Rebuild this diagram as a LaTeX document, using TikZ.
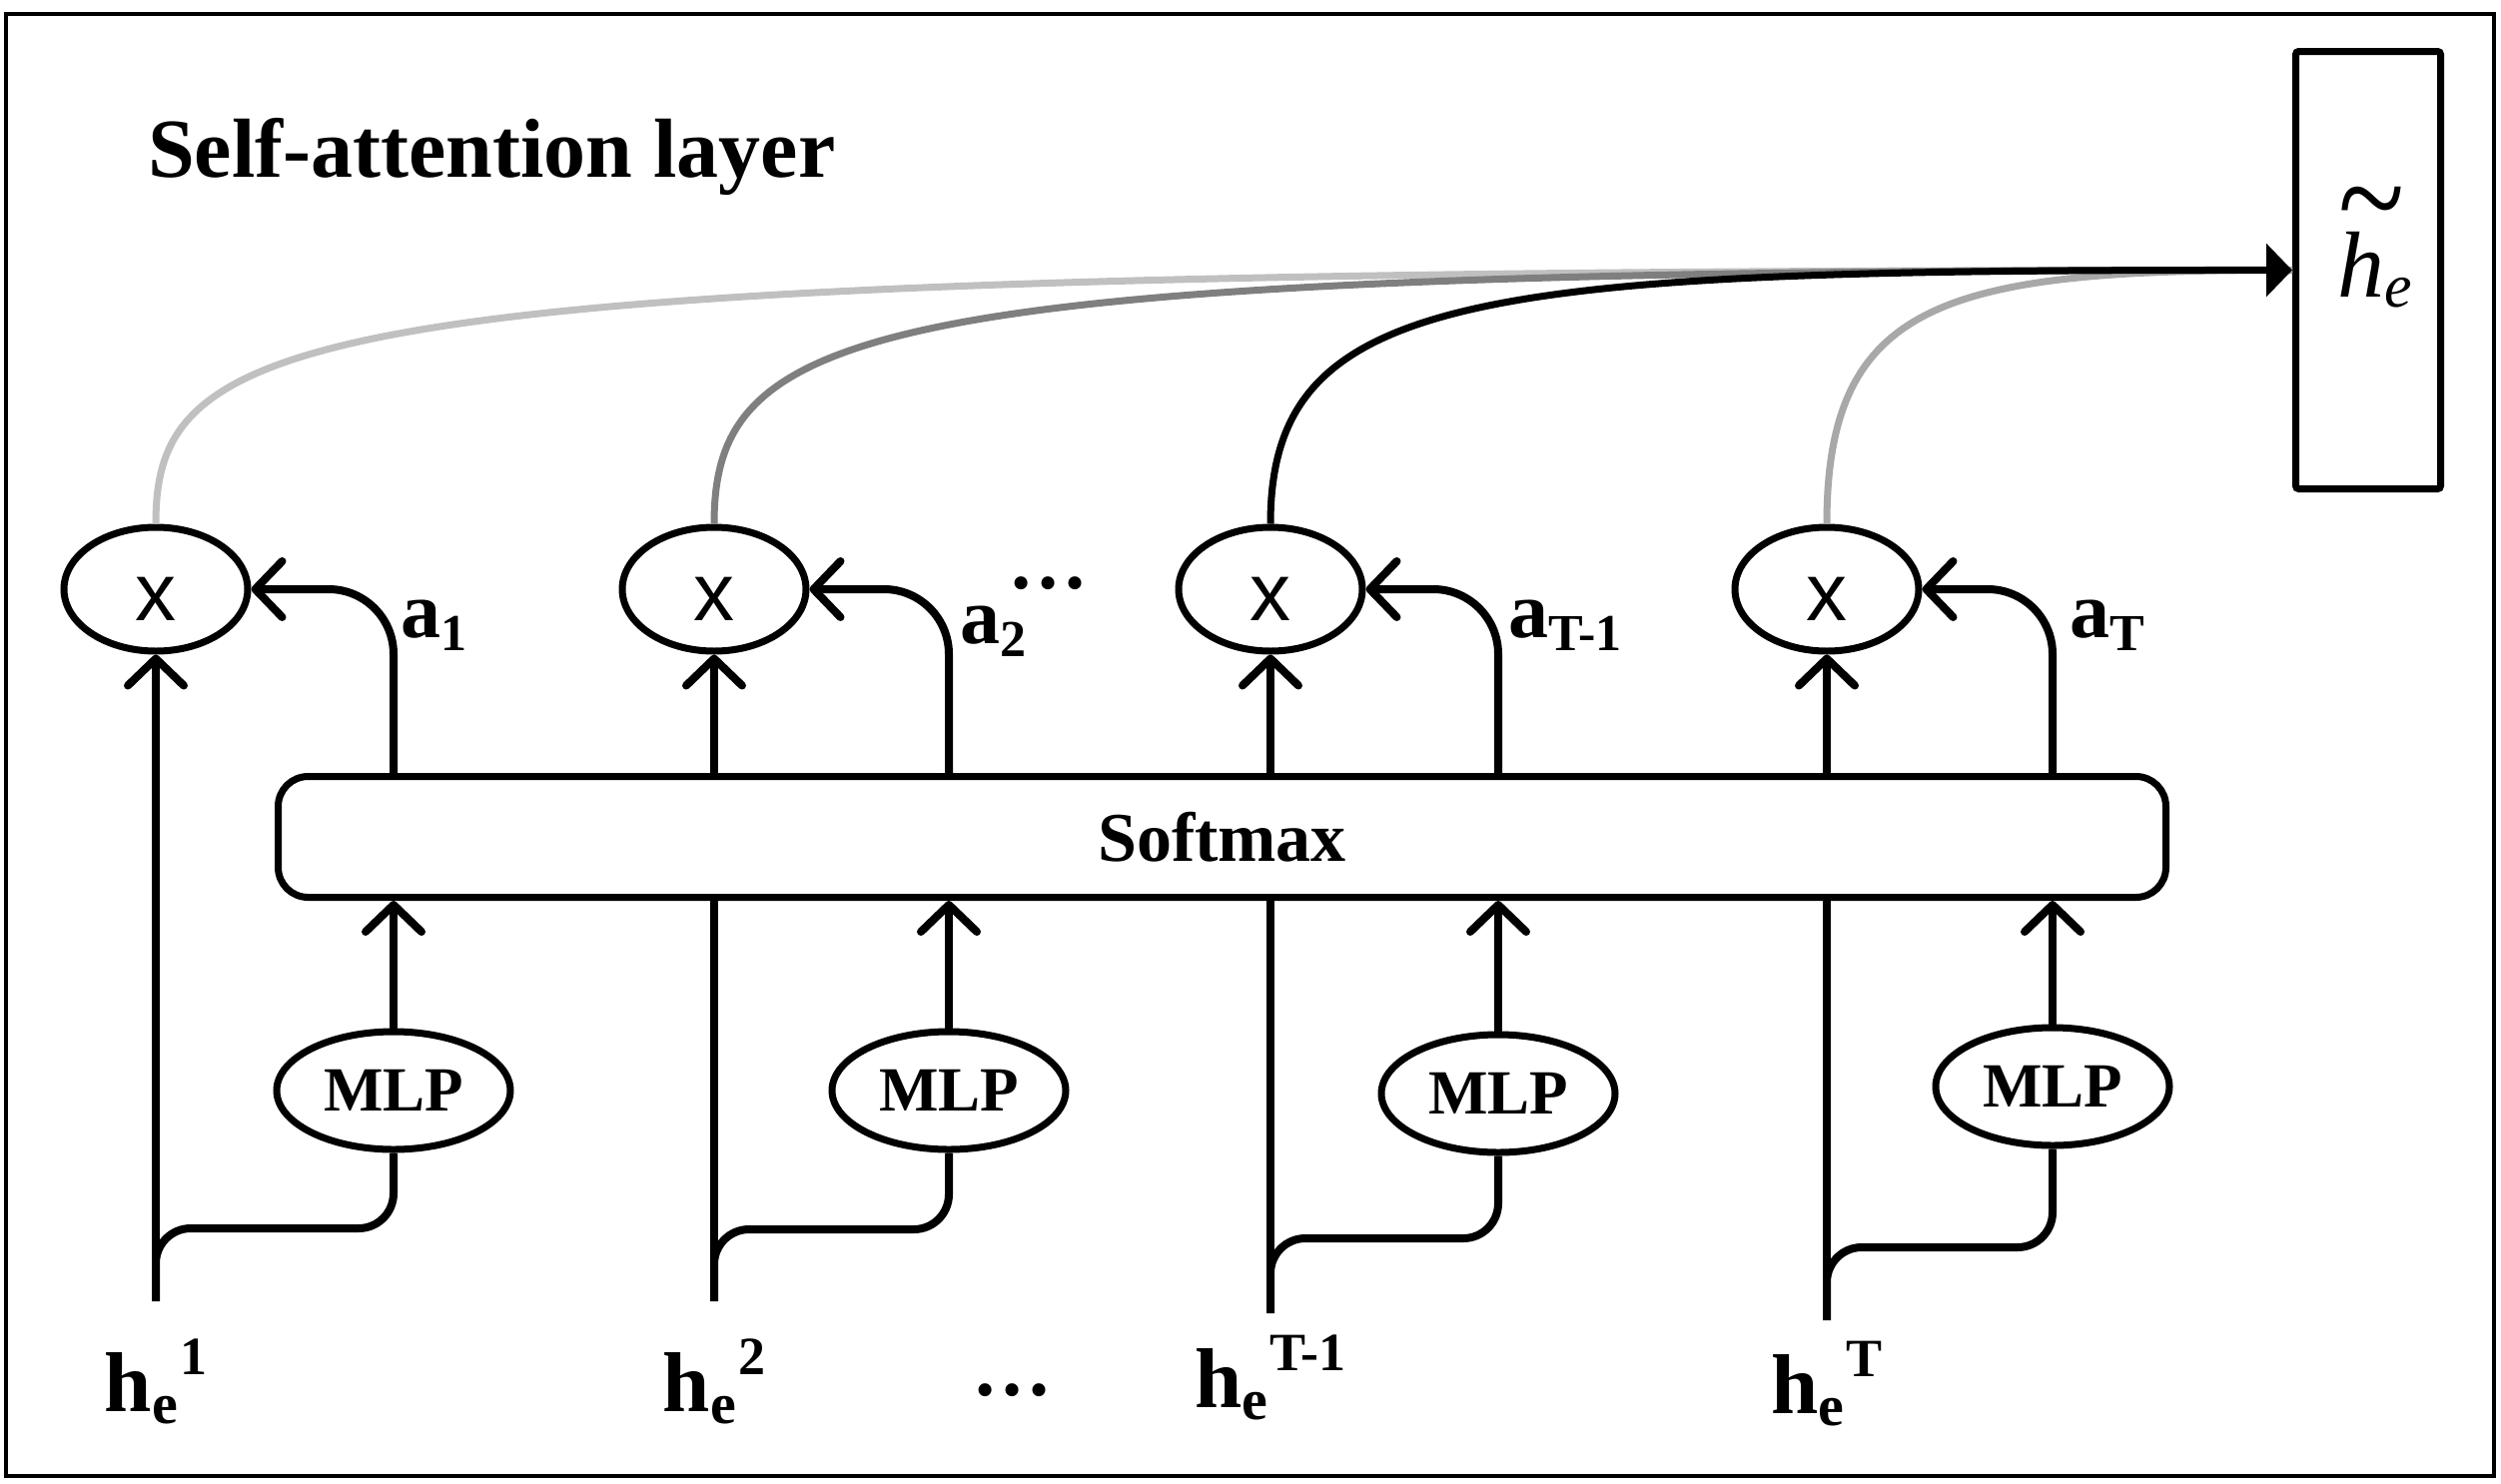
\documentclass[tikz,border=0pt]{standalone}
\usepackage{fontspec}
\setmainfont{Liberation Serif}
\newfontfamily\xsans{Liberation Sans}
\usetikzlibrary{arrows.meta,shapes.geometric}
\definecolor{cA}{HTML}{C0C0C0}
\definecolor{cB}{HTML}{7F7F7F}
\definecolor{cD}{HTML}{A8A8A8}
\newcommand\alab[1]{{\fontsize{80}{80}\selectfont a}\raisebox{-13pt}{\fontsize{52}{52}\selectfont #1}}
\newcommand\hlab[1]{{\fontsize{85}{85}\selectfont h}\raisebox{-12pt}{\fontsize{58}{58}\selectfont e}\hspace{2pt}\raisebox{37pt}{\fontsize{54}{54}\selectfont #1}}
\tikzset{
  mult/.style={ellipse, draw, line width=7pt, inner sep=0pt, minimum width=184pt, minimum height=124pt,
    font=\xsans\fontsize{82}{82}\selectfont, text height=62pt, text depth=0pt},
  mlp/.style={ellipse, draw, line width=7pt, inner sep=0pt, minimum width=234pt, minimum height=118pt,
    font=\bfseries\fontsize{63}{63}\selectfont},
  conn/.style={line width=8pt},
  barb/.style={conn, -{Straight Barb[length=27pt,width=56pt,round]}},
  sidearr/.style={barb, rounded corners=65pt},
  branch/.style={conn, rounded corners=35pt},
  agg/.style={line width=7pt},
  lab/.style={inner sep=0pt, font=\bfseries},
}
\begin{document}
\begin{tikzpicture}[x=1pt,y=-1pt]
\useasboundingbox (0,0) rectangle (2504,1486);
\draw[line width=4.5pt] (6,14) rectangle (2497,1478);

\node[lab, anchor=base west, font=\bfseries\fontsize{84}{84}\selectfont] (title) at (148,177) {Self-attention layer};

% output box
\node[draw, line width=7pt, minimum width=145pt, minimum height=438pt, rounded corners=3pt, inner sep=0pt] (out) at (2371,270.5) {};
\node[inner sep=0pt, anchor=base west] (outlab) at (2340,297)
  {\fontsize{94}{94}\selectfont\itshape\rlap{\hspace{1pt}\raisebox{52pt}{\upshape\scalebox{1.3}[1.5]{\textasciitilde}}}h\raisebox{-10pt}{\fontsize{62}{62}\selectfont e}};

% multiplication nodes
\node[mult] (e1) at (156,590) {x};
\node[mult] (e2) at (715,590) {x};
\node[mult] (e3) at (1272,590) {x};
\node[mult] (e4) at (1829,590) {x};

% MLP nodes
\node[mlp] (m1) at (394,1092) {MLP};
\node[mlp] (m2) at (950,1092) {MLP};
\node[mlp] (m3) at (1500,1095) {MLP};
\node[mlp] (m4) at (2055,1088) {MLP};

% column bottoms and branch points
\coordinate (b1) at (156,1303);
\coordinate (b2) at (715,1303);
\coordinate (b3) at (1272,1315);
\coordinate (b4) at (1829,1322);
\coordinate (k1) at (394,1230);
\coordinate (k2) at (950,1231);
\coordinate (k3) at (1500,1240);
\coordinate (k4) at (2055,1249);

\draw[barb] (b1) -- (e1.south);
\draw[barb] (b2) -- (e2.south);
\draw[barb] (b3) -- (e3.south);
\draw[barb] (b4) -- (e4.south);
\draw[branch] (b1) |- (k1) -- (m1.south);
\draw[branch] (b2) |- (k2) -- (m2.south);
\draw[branch] (b3) |- (k3) -- (m3.south);
\draw[branch] (b4) |- (k4) -- (m4.south);

% softmax
\node[draw, fill=white, line width=7pt, rounded corners=30pt, minimum width=1890pt, minimum height=121pt,
  inner sep=0pt, font=\bfseries\fontsize{70}{70}\selectfont] (sm) at (1223.5,838) {Softmax};

\draw[barb] (m1.north) -- (m1.north |- sm.south);
\draw[barb] (m2.north) -- (m2.north |- sm.south);
\draw[barb] (m3.north) -- (m3.north |- sm.south);
\draw[barb] (m4.north) -- (m4.north |- sm.south);

\draw[sidearr] (sm.north -| m1.north) |- (e1.east);
\draw[sidearr] (sm.north -| m2.north) |- (e2.east);
\draw[sidearr] (sm.north -| m3.north) |- (e3.east);
\draw[sidearr] (sm.north -| m4.north) |- (e4.east);

% aggregation curves
\draw[agg, cA] (e1.north) .. controls (156,320) and (320,270) .. (out.west);
\draw[agg, cB] (e2.north) .. controls (715,320) and (880,270) .. (out.west);
\draw[agg, cD] (e4.north) .. controls (1829,300) and (1950,270) .. (out.west);
\draw[agg, -{Triangle[length=26pt,width=52pt]}] (e3.north) .. controls (1272,290) and (1480,270) .. (out.west);

% labels
\node[lab, anchor=base west] (a1) at (401,638) {\alab{1}};
\node[lab, anchor=base west] (a2) at (961,644) {\alab{2}};
\node[lab, anchor=base west] (a3) at (1510,638) {\alab{T-1}};
\node[lab, anchor=base west] (a4) at (2072,638) {\alab{T}};
\node[lab, anchor=base, font=\bfseries\fontsize{80}{80}\selectfont] (dotsA) at (1049,589) {…};

\node[lab, anchor=base] (h1) at (156,1413) {\hlab{1}};
\node[lab, anchor=base] (h2) at (715,1413) {\hlab{2}};
\node[lab, anchor=base] (h3) at (1272,1409) {\hlab{T-1}};
\node[lab, anchor=base] (h4) at (1829,1415) {\hlab{T}};
\node[lab, anchor=base, font=\bfseries\fontsize{80}{80}\selectfont] (dotsB) at (1013,1397) {…};
\end{tikzpicture}
\end{document}
